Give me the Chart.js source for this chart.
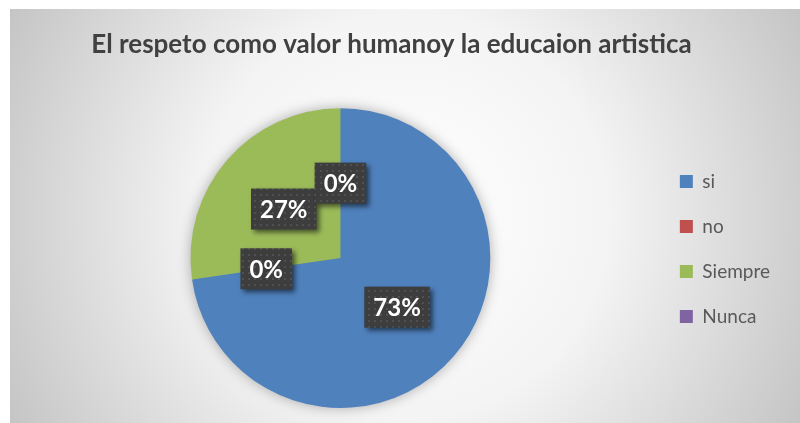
<!DOCTYPE html>
<html>
<head>
<meta charset="utf-8">
<script src="https://cdn.jsdelivr.net/npm/chart.js@4"></script>
<style>
  html, body { margin: 0; padding: 0; background: #fff; }
  #wrap { width: 800px; height: 423px; }
</style>
</head>
<body>
<div id="wrap"><canvas id="pie" width="800" height="423"></canvas></div>
<script>
// ── data ──
const categories = ['si', 'no', 'Siempre', 'Nunca'];
const answers    = [8, 0, 3, 0];
const sliceColors = ['#4F81BD', '#C0504D', '#9BBB59', '#8064A2'];
const chartTitle = 'El respeto como valor humanoy la educaion artistica';

const FONT = 'Lato, "Open Sans", sans-serif';

// ── background: white margin + radial grey gradient panel ──
const panelBg = {
  id: 'panelBg',
  beforeDraw(chart) {
    const { ctx, width, height } = chart;
    ctx.save();
    ctx.fillStyle = '#fff';
    ctx.fillRect(0, 0, width, height);
    const x0 = 10, y0 = 9;
    const cx = (x0 + width) / 2, cy = (y0 + height) / 2;
    const g = ctx.createRadialGradient(cx, cy, 0, cx, cy, 450);
    g.addColorStop(0, '#ffffff');
    g.addColorStop(0.45, '#f4f4f4');
    g.addColorStop(1, '#c4c4c4');
    ctx.fillStyle = g;
    ctx.fillRect(x0, y0, width - x0, height - y0);
    ctx.restore();
  }
};

// ── nudge title / legend boxes to where Excel put them ──
const nudge = {
  id: 'nudge',
  afterLayout(chart) {
    const t = chart.titleBlock;
    if (t) { t.left -= 12; t.right -= 12; }
    const l = chart.legend;
    if (l) { l.left -= 20; l.right -= 20; l.top += 45; l.bottom += 45; }
  }
};

// ── soft glow behind the pie ──
const pieGlow = {
  id: 'pieGlow',
  beforeDatasetsDraw(chart) {
    const arc = chart.getDatasetMeta(0).data[0];
    if (!arc) return;
    const { ctx } = chart;
    ctx.save();
    ctx.shadowColor = 'rgba(0,0,0,0.35)';
    ctx.shadowBlur = 14;
    ctx.fillStyle = sliceColors[0];
    ctx.beginPath();
    ctx.arc(arc.x, arc.y, arc.outerRadius - 1, 0, Math.PI * 2);
    ctx.fill();
    ctx.restore();
  }
};

// ── dark patterned percentage boxes ──
function dotPattern(ctx) {
  const c = document.createElement('canvas');
  c.width = 6; c.height = 6;
  const p = c.getContext('2d');
  p.fillStyle = '#3d3d3d';
  p.fillRect(0, 0, 6, 6);
  p.fillStyle = '#505050';
  p.fillRect(2, 2, 2, 2);
  return ctx.createPattern(c, 'repeat');
}

const pctLabels = {
  id: 'pctLabels',
  afterDatasetsDraw(chart) {
    const { ctx } = chart;
    const meta = chart.getDatasetMeta(0);
    const data = chart.data.datasets[0].data;
    const total = data.reduce((a, b) => a + b, 0);
    const pattern = dotPattern(ctx);
    ctx.save();
    ctx.font = 'bold 24px ' + FONT;
    ctx.textAlign = 'center';
    ctx.textBaseline = 'middle';
    meta.data.forEach((arc, i) => {
      const txt = Math.round(data[i] / total * 100) + '%';
      const pos = arc.tooltipPosition();
      const w = ctx.measureText(txt).width + 18;
      const h = 41;
      ctx.save();
      ctx.shadowColor = 'rgba(0,0,0,0.55)';
      ctx.shadowBlur = 5;
      ctx.shadowOffsetX = 3;
      ctx.shadowOffsetY = 3;
      ctx.fillStyle = pattern;
      ctx.fillRect(pos.x - w / 2, pos.y - h / 2, w, h);
      ctx.restore();
      ctx.fillStyle = '#ffffff';
      ctx.fillText(txt, pos.x, pos.y + 1);
    });
    ctx.restore();
  }
};

new Chart(document.getElementById('pie'), {
  type: 'pie',
  data: {
    labels: categories,
    datasets: [{
      data: answers,
      backgroundColor: sliceColors,
      borderWidth: 0
    }]
  },
  options: {
    responsive: false,
    devicePixelRatio: 1,
    animation: false,
    layout: { padding: { left: 7, right: 0, top: 0, bottom: 15 } },
    plugins: {
      title: {
        display: true,
        text: chartTitle,
        color: '#404040',
        font: { family: FONT, size: 26, weight: 'bold' },
        padding: { top: 29, bottom: 48 }
      },
      legend: {
        position: 'right',
        labels: {
          boxWidth: 13,
          boxHeight: 13,
          padding: 26,
          color: '#595959',
          font: { family: FONT, size: 19 }
        }
      },
      tooltip: { enabled: false }
    }
  },
  plugins: [panelBg, nudge, pieGlow, pctLabels]
});
</script>
</body>
</html>
